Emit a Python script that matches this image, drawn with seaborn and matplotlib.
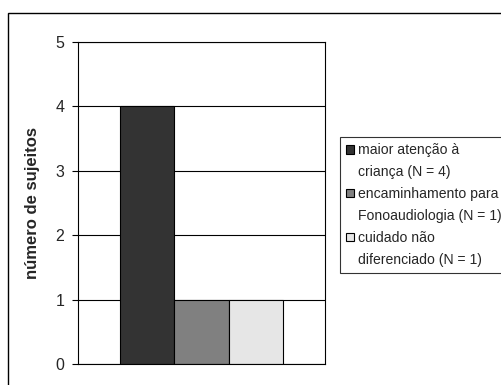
import matplotlib
matplotlib.use("Agg")
import matplotlib.pyplot as plt
from matplotlib.patches import Rectangle
import seaborn as sns
import pandas as pd

categorias = ["maior atenção à\ncriança (N = 4)",
              "encaminhamento para\nFonoaudiologia (N = 1)",
              "cuidado não\ndiferenciado (N = 1)"]
valores = [4, 1, 1]
cores = ["#333333", "#808080", "#e6e6e6"]
yticks = [0, 1, 2, 3, 4, 5]

sns.set_theme(style="white")
plt.rcParams["font.family"] = ["Liberation Sans", "DejaVu Sans"]

df = pd.DataFrame({"grupo": [""] * len(valores), "resposta": categorias, "n": valores})

fig = plt.figure(figsize=(5.02, 3.85), dpi=100)
ax = fig.add_axes([0.1554, 0.0545, 0.492, 0.8364])

sns.barplot(data=df, x="grupo", y="n", hue="resposta", hue_order=categorias,
            palette=cores, width=0.8, edgecolor="black", linewidth=0.8,
            ax=ax, legend=True)

ax.set_xlim(-0.6025, 0.6025)
ax.set_ylim(0, 5)
ax.set_yticks(yticks)
ax.set_yticklabels([str(t) for t in yticks], fontsize=11.5)
ax.set_xticks([])
ax.set_xlabel("")
ax.set_ylabel("número de sujeitos", fontsize=12, fontweight="bold", labelpad=11)
ax.yaxis.grid(True, color="black", linewidth=0.8)
ax.set_axisbelow(True)
ax.tick_params(axis="y", direction="out", length=4.3, width=0.8, color="black", pad=5.5)
ax.yaxis.set_ticks_position("left")
for s in ax.spines.values():
    s.set_color("black")
    s.set_linewidth(0.8)

# legend: one row per text line, the swatch beside the first line of each entry
handles, labels = ax.get_legend_handles_labels()
ax.get_legend().remove()
leg_handles, leg_labels = [], []
for h, lab in zip(handles, labels):
    lines = lab.split("\n")
    sw = Rectangle((0, 0), 1, 1, facecolor=h.get_facecolor(),
                   edgecolor="black", linewidth=0.8)
    leg_handles.append(sw)
    leg_labels.append(lines[0])
    for extra in lines[1:]:
        leg_handles.append(Rectangle((0, 0), 1, 1, facecolor="none",
                                     edgecolor="none", linewidth=0))
        leg_labels.append(extra)

leg = ax.legend(leg_handles, leg_labels, loc="upper left",
                bbox_to_anchor=(340 / 502, 1 - 137 / 385),
                bbox_transform=fig.transFigure, fontsize=10.1, frameon=True,
                fancybox=False, borderpad=0.45, handlelength=0.55, handleheight=0.55,
                handletextpad=0.25, labelspacing=0.56, borderaxespad=0)
leg.get_frame().set_edgecolor("black")
leg.get_frame().set_linewidth(0.8)

# outer chart frame
fig.patches.append(Rectangle((8 / 502, -0.05), 1.0, 1 - 13 / 385 + 0.05,
                             transform=fig.transFigure, fill=False,
                             edgecolor="black", linewidth=1.0))

fig.savefig("out.png", dpi=100)
